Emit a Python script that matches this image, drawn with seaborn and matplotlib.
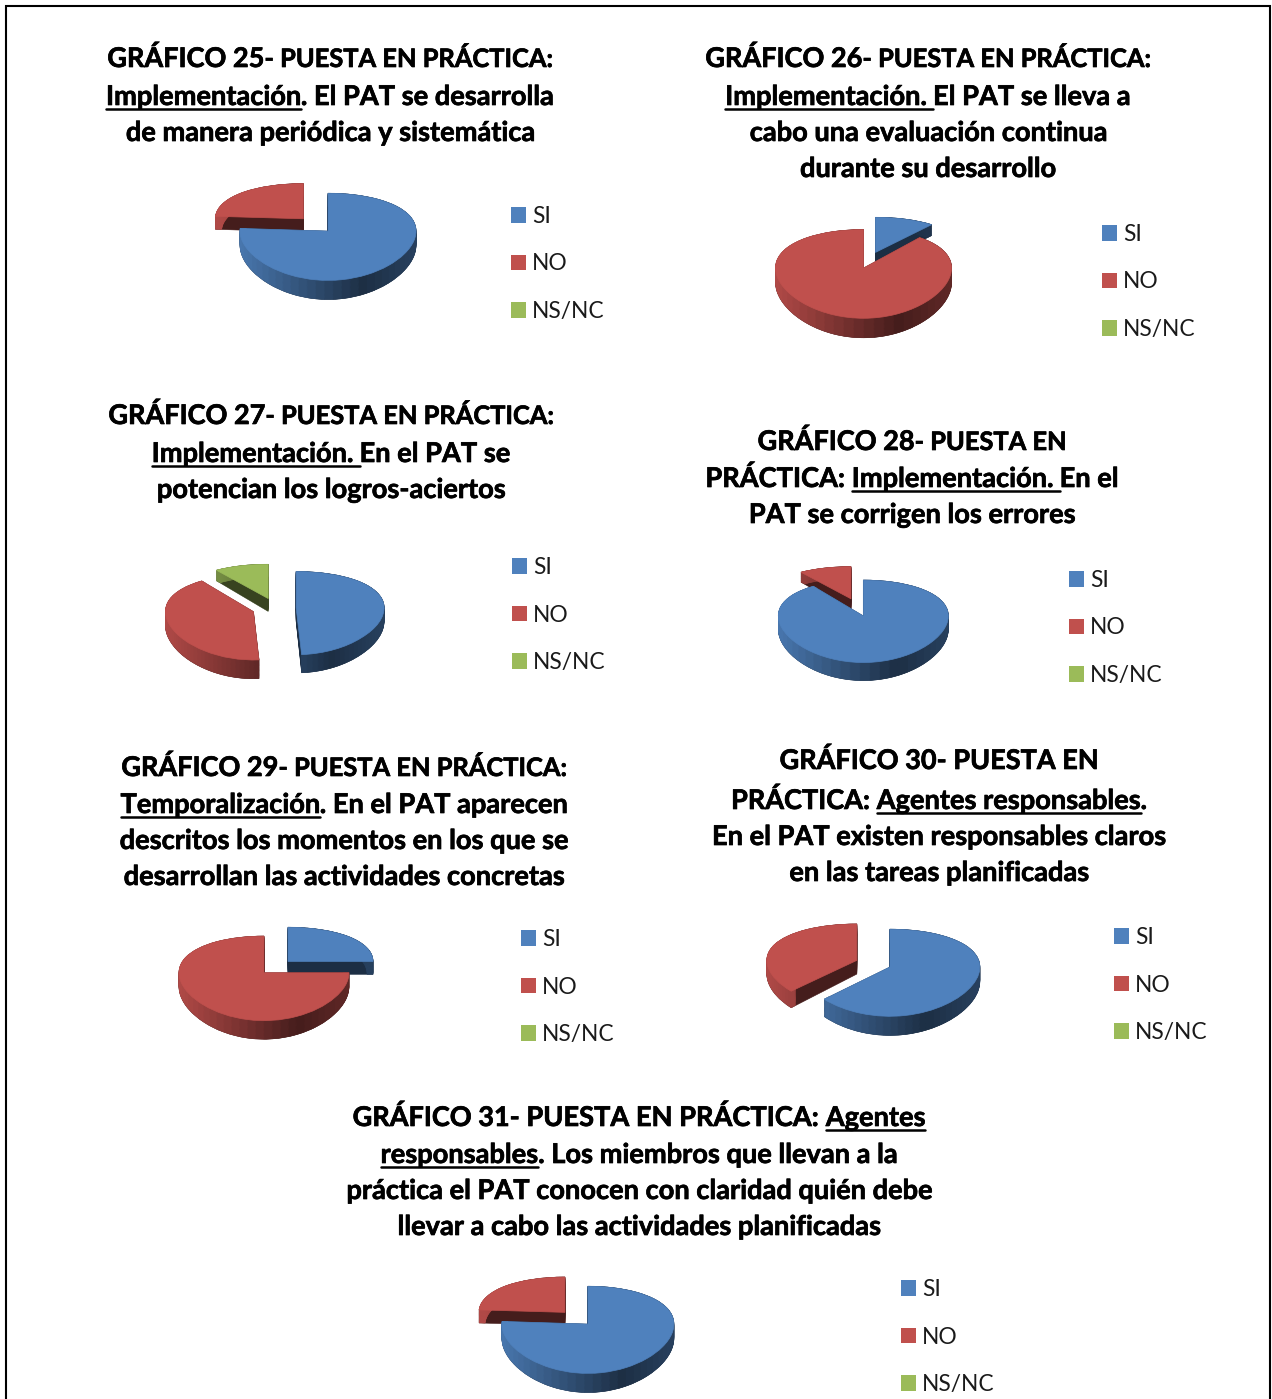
import numpy as np
import seaborn as sns
import matplotlib
matplotlib.use("Agg")
import matplotlib.pyplot as plt
import matplotlib.patheffects as pe
from matplotlib.lines import Line2D
from matplotlib.patches import Patch, Rectangle

W, H = 1272, 1399

labels = ["SI", "NO", "NS/NC"]
chart25 = [76, 24, 0]
chart26 = [11, 89, 0]
chart27 = [49, 41, 10]
chart28 = [90, 10, 0]
chart29 = [25, 75, 0]
chart30 = [63, 37, 0]
chart31 = [76, 24, 0]

B, H1, S, U = "big", "head", "small", "under"
title25 = [[("GRÁFICO 25", B), ("- PUESTA EN PRÁCTICA:", H1)],
           [("Implementación", U), (". El PAT se desarrolla", S)],
           [("de manera periódica y sistemática", S)]]
title26 = [[("GRÁFICO 26", B), ("- PUESTA EN PRÁCTICA:", H1)],
           [("Implementación. ", U), ("El PAT se lleva a", S)],
           [("cabo una evaluación continua", S)],
           [("durante su desarrollo", S)]]
title27 = [[("GRÁFICO 27", B), ("- PUESTA EN PRÁCTICA:", H1)],
           [("Implementación. ", U), ("En el PAT se", S)],
           [("potencian los logros-aciertos", S)]]
title28 = [[("GRÁFICO 28", B), ("- PUESTA EN", H1)],
           [("PRÁCTICA: ", S), ("Implementación. ", U), ("En el", S)],
           [("PAT se corrigen los errores", S)]]
title29 = [[("GRÁFICO 29", B), ("- PUESTA EN PRÁCTICA:", H1)],
           [("Temporalización", U), (". En el PAT aparecen", S)],
           [("descritos los momentos en los que se", S)],
           [("desarrollan las actividades concretas", S)]]
title30 = [[("GRÁFICO 30- PUESTA EN", B)],
           [("PRÁCTICA: ", B), ("Agentes responsables", U), (".", B)],
           [("En el PAT existen responsables claros", S)],
           [("en las tareas planificadas", S)]]
title31 = [[("GRÁFICO 31", B), ("- PUESTA EN PRÁCTICA: ", S), ("Agentes", U)],
           [("responsables", U), (". Los miembros que llevan a la", S)],
           [("práctica el PAT conocen con claridad quién debe", S)],
           [("llevar a cabo las actividades planificadas", S)]]

# values, title, title centre x, title baselines, pie centre, radii, explode, legend pos
charts = [
    (chart25, title25, 330, [67, 105, 141], (322, 228), (88, 42), [0.10, 0.31, 0], (511, 264)),
    (chart26, title26, 928, [67, 105, 141, 177], (868, 262), (88, 42), [0.25, 0.15, 0], (1102, 282)),
    (chart27, title27, 331, [424, 462, 498], (275, 608), (88, 41), [0.24, 0.26, 0.25], (512, 615)),
    (chart28, title28, 912, [450, 487, 523], (862, 614), (85, 40), [0.05, 0.42, 0], (1069, 628)),
    (chart29, title29, 344, [776, 813, 849, 885], (276, 967), (85, 40), [0.20, 0.20, 0], (521, 987)),
    (chart30, title30, 939, [769, 809, 845, 881], (875, 964), (90, 42), [0.18, 0.22, 0], (1114, 985)),
    (chart31, title31, 639, [1126, 1163, 1199, 1235], (582, 1321), (86, 42), [0.10, 0.29, 0], (901, 1337)),
]

sns.set_theme(style="white")
plt.rcParams["font.family"] = ["Lato", "DejaVu Sans"]
palette = sns.color_palette(["#4f81bd", "#c0504d", "#9bbb59"])

PERSP, DEPTH, LAYERS, STEPS = 0.13, 0.32, 16, 48
FONT_PT = {B: 19.5, H1: 18.3, S: 19.6, U: 19.6}
LEG_PT = 16.4
XLIM, YLIM = (-1.7, 1.7), (-2.2, 1.7)


def persp(y):
    # back of the disc gets shorter, front gets longer
    return y / (1 + PERSP * y)


def persp_inv(y):
    return y / (1 - PERSP * y)


def shade(color, x):
    # side colour of the disc, from lit left to dark right
    k = np.interp((x + 1) / 2, [0, 0.7, 1], [0.92, 0.36, 0.5])
    return tuple(np.array(color) * k)


def pie_layer(ax, values, colors, angle, center, lw, **wedge):
    wedges, _ = ax.pie(values, colors=colors, startangle=angle, counterclock=False,
                       center=center, wedgeprops=wedge)
    for w in wedges:
        w.set_edgecolor(w.get_facecolor())
        w.set_linewidth(lw)


def draw_pie(fig, values, center, radii, explode):
    cx, cy = center
    rx, ry = radii
    top = cy - ry * persp(YLIM[1])
    bottom = cy - ry * persp(YLIM[0])
    left = cx + rx * XLIM[0]
    width = rx * (XLIM[1] - XLIM[0])
    ax = fig.add_axes([left / W, 1 - bottom / H, width / W, (bottom - top) / H])

    slices = []
    done = 0
    for i, v in enumerate(values):
        if v > 0:
            mid = np.radians((done + v / 2) * 3.6)
            slices.append((i, v, done, explode[i] * np.sin(mid), explode[i] * np.cos(mid)))
        done += v
    # back slices first
    slices.sort(key=lambda s: -s[4])

    total = sum(values)
    for i, v, start, ox, oy in slices:
        base = palette[i]
        angle = 90 - start * 3.6
        depths = np.linspace(DEPTH, 0, LAYERS)

        # cut faces
        for d in depths:
            pie_layer(ax, [v, total - v], [shade(base, 0.4), "none"], angle, (ox, oy - d), 0.4)

        # outer rim, split in steps for the gradient
        thetas = np.radians(start * 3.6 + (np.arange(STEPS) + 0.5) * v * 3.6 / STEPS)
        rim = [shade(base, np.sin(t)) for t in thetas] + ["none"]
        for d in depths:
            pie_layer(ax, [v / STEPS] * STEPS + [total - v], rim, angle, (ox, oy - d), 0.4, width=0.07)

        pie_layer(ax, [v, total - v], [base, "none"], angle, (ox, oy), 0.5)

    ax.set_aspect("auto")
    ax.set_xlim(*XLIM)
    ax.set_yscale("function", functions=(persp, persp_inv))
    ax.set_ylim(*YLIM)
    ax.patch.set_visible(False)
    ax.axis("off")


def text_width(fig, renderer, s, size):
    t = fig.text(0, 0, s + ".", fontsize=size, fontweight="bold")
    d = fig.text(0, 0, ".", fontsize=size, fontweight="bold")
    w = t.get_window_extent(renderer).width - d.get_window_extent(renderer).width
    t.remove()
    d.remove()
    return w


def draw_title(fig, renderer, title, center_x, baselines):
    heavier = [pe.withStroke(linewidth=0.5, foreground="black")]
    for line, base_y in zip(title, baselines):
        widths = [text_width(fig, renderer, s, FONT_PT[style]) for s, style in line]
        x = center_x - sum(widths) / 2
        for (s, style), w in zip(line, widths):
            fig.text(x / W, 1 - base_y / H, s, fontsize=FONT_PT[style], fontweight="bold",
                     color="black", ha="left", va="baseline", path_effects=heavier)
            if style == U:
                fig.add_artist(Line2D([x / W, (x + w) / W], [1 - (base_y + 3.5) / H] * 2,
                                      color="black", lw=1.8))
            x += w


def draw_legend(fig, pos):
    handles = [Patch(color=c, linewidth=0) for c in palette]
    fs_px = LEG_PT * 100 / 72
    fig.legend(handles, labels, loc="center left",
               bbox_to_anchor=(pos[0] / W, 1 - pos[1] / H),
               frameon=False, borderaxespad=0, borderpad=0, fontsize=LEG_PT,
               handlelength=15 / fs_px, handleheight=15 / fs_px,
               handletextpad=6 / fs_px, labelspacing=1.16, labelcolor="#1a1a1a")


def main():
    fig = plt.figure(figsize=(W / 100, H / 100), dpi=100, facecolor="white")
    renderer = fig.canvas.get_renderer()

    # page frame, runs off the bottom
    fig.add_artist(Rectangle((6 / W, -0.02), 1264 / W, 1.02 - 6 / H, fill=False,
                             edgecolor="black", linewidth=1.5))

    for values, title, tx, baselines, center, radii, explode, leg in charts:
        draw_pie(fig, values, center, radii, explode)
        draw_title(fig, renderer, title, tx, baselines)
        draw_legend(fig, leg)

    fig.savefig("out.png", dpi=100)


if __name__ == "__main__":
    main()
